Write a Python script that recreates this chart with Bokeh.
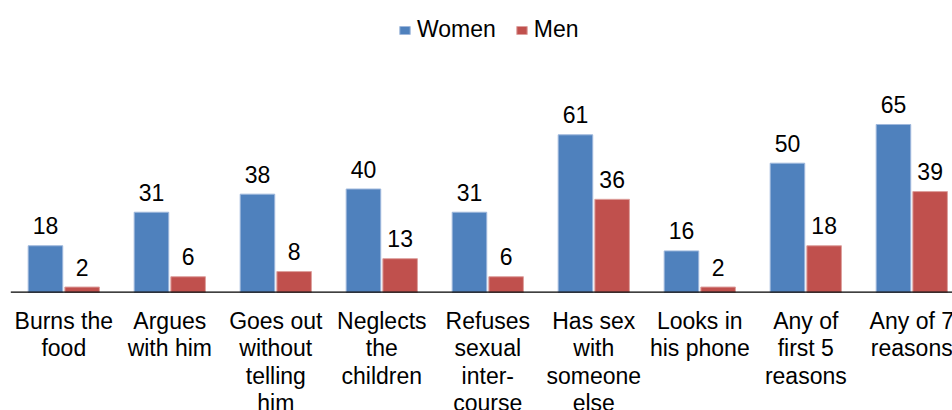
from bokeh.plotting import figure
from bokeh.models import ColumnDataSource, Legend, LegendItem
from bokeh.core.properties import value
from bokeh.embed import file_html
from bokeh.resources import INLINE

categories = [
    "Burns the\nfood",
    "Argues\nwith him",
    "Goes out\nwithout\ntelling\nhim",
    "Neglects\nthe\nchildren",
    "Refuses\nsexual\ninter-\ncourse",
    "Has sex\nwith\nsomeone\nelse",
    "Looks in\nhis phone",
    "Any of\nfirst 5\nreasons",
    "Any of 7\nreasons",
]
women = [18, 31, 38, 40, 31, 61, 16, 50, 65]
men = [2, 6, 8, 13, 6, 36, 2, 18, 39]

BLUE = "#4F81BD"
RED = "#C0504D"
FONT = "Liberation Sans"
FS = "23px"

n = len(categories)
pos = list(range(n))
off = 0.173
bw = 0.326

src = ColumnDataSource(dict(
    x=pos,
    xw=[p_ - off for p_ in pos],
    xm=[p_ + off for p_ in pos],
    women=women,
    men=men,
    wl=[str(v) for v in women],
    ml=[str(v) for v in men],
    cat=categories,
))

p = figure(width=952, height=410, output_backend="svg", toolbar_location=None,
           x_range=(-0.5972, 8.384), y_range=(-45.85, 113.06),
           min_border=0, min_border_left=0, min_border_right=0,
           min_border_top=0, min_border_bottom=0)
p.axis.visible = False
p.grid.visible = False
p.outline_line_color = None
p.background_fill_color = "white"
p.border_fill_color = "white"

rw = p.vbar(x="xw", top="women", width=bw, bottom=0, source=src,
            fill_color=BLUE, line_color="#9FB8DC", line_width=1)
rm = p.vbar(x="xm", top="men", width=bw, bottom=0, source=src,
            fill_color=RED, line_color="#DDA09E", line_width=1)

# baseline
p.segment(x0=[-0.5], y0=[0], x1=[n - 0.5], y1=[0], line_color="black", line_width=1.3)

# value labels
p.text(x="xw", y="women", text="wl", source=src, text_align="center",
       text_baseline="alphabetic", y_offset=-20, text_font=value(FONT),
       text_font_size=FS, text_color="black")
p.text(x="xm", y="men", text="ml", source=src, text_align="center",
       text_baseline="alphabetic", y_offset=-20, text_font=value(FONT),
       text_font_size=FS, text_color="black")

# category labels (clipped by the frame like the reference)
p.text(x="x", y=-6.12, text="cat", source=src, text_align="center",
       text_baseline="top", text_font=value(FONT), text_font_size=FS,
       text_line_height=1.05, text_color="black")

legend = Legend(items=[LegendItem(label="Women", renderers=[rw]),
                       LegendItem(label="Men", renderers=[rm])],
                orientation="horizontal", location=(398, 367),
                glyph_width=13, glyph_height=10, label_standoff=6, spacing=19,
                padding=0, margin=0, border_line_color=None,
                background_fill_alpha=0,
                label_text_font=FONT, label_text_font_size=FS,
                label_text_color="black")
p.add_layout(legend)

open("out.html", "w").write(file_html(p, INLINE))
